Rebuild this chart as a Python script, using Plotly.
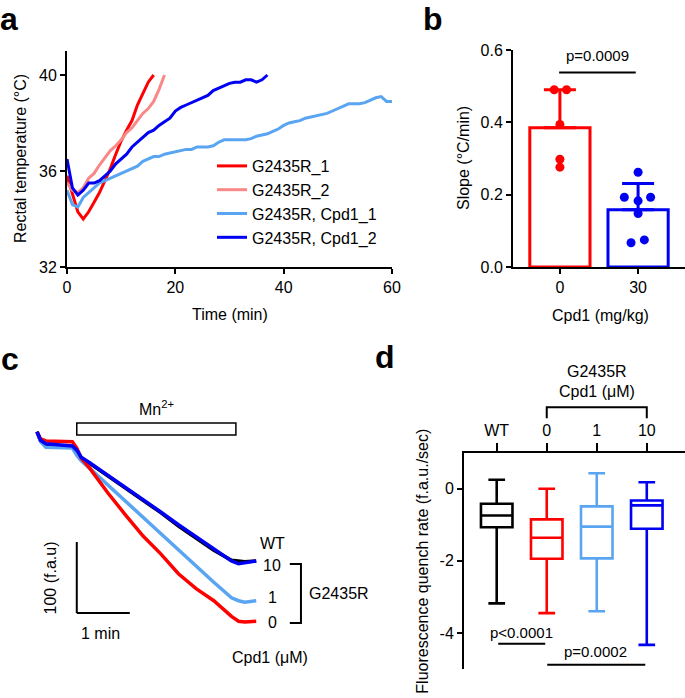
import plotly.graph_objects as go

W, H = 685, 698
FONT = "Liberation Sans, Arial, sans-serif"
FS = 16

RED = "#FF0000"
PINK = "#F98888"
LBLUE = "#5AA5F2"
BLUE = "#0000F2"
BLACK = "#000000"

# ---------------- Panel a : rectal temperature ----------------
a_names = ["G2435R_1", "G2435R_2", "G2435R, Cpd1_1", "G2435R, Cpd1_2"]
a_time_1 = list(range(0, 17))
a_temp_1 = [35.8, 35.0, 34.3, 34.0, 34.3, 34.7, 35.1, 35.6, 36.1, 36.7, 37.25,
            37.7, 38.1, 38.75, 39.25, 39.7, 40.0]
a_time_2 = list(range(0, 19))
a_temp_2 = [35.5, 35.2, 35.1, 35.3, 35.7, 35.9, 36.25, 36.55, 36.85, 37.05, 37.3,
            37.6, 37.8, 38.1, 38.4, 38.6, 38.9, 39.4, 40.0]
a_time_3 = list(range(0, 61))
a_temp_3 = [35.2, 34.6, 34.5, 34.9, 35.1, 35.3, 35.5, 35.6, 35.7, 35.8, 35.9,
            36.0, 36.1, 36.2, 36.4, 36.5, 36.6, 36.6, 36.7, 36.75, 36.8,
            36.85, 36.9, 36.9, 37.0, 37.0, 37.0, 37.05, 37.2, 37.3, 37.3,
            37.3, 37.3, 37.3, 37.35, 37.45, 37.5, 37.55, 37.65, 37.75, 37.9,
            38.0, 38.05, 38.1, 38.2, 38.25, 38.3, 38.35, 38.4, 38.5, 38.6,
            38.7, 38.8, 38.8, 38.8, 38.85, 38.95, 39.05, 39.1, 38.9, 38.9]
a_time_4 = list(range(0, 38))
a_temp_4 = [36.5, 35.3, 35.0, 35.2, 35.5, 35.5, 35.6, 35.8, 36.0, 36.3, 36.5,
            36.7, 37.0, 37.2, 37.4, 37.6, 37.7, 37.9, 38.05, 38.2, 38.5,
            38.65, 38.75, 38.85, 38.95, 39.05, 39.15, 39.35, 39.45, 39.55,
            39.65, 39.7, 39.7, 39.8, 39.8, 39.7, 39.8, 40.0]
a_colors = [RED, PINK, LBLUE, BLUE]
a_xticks = [0, 20, 40, 60]
a_yticks = [32, 36, 40]

# ---------------- Panel b : slope bars ----------------
b_categories = ["0", "30"]
b_means = [0.385, 0.158]
b_sd = [0.105, 0.073]
b_points_0 = [0.49, 0.49, 0.394, 0.298, 0.276]
b_jitter_0 = [-0.073, 0.085, 0.0, 0.0, 0.0]
b_points_30 = [0.262, 0.193, 0.183, 0.193, 0.148, 0.067, 0.075]
b_jitter_30 = [0.0, -0.176, 0.0, 0.16, 0.0, -0.09, 0.08]
b_yticks = [0.0, 0.2, 0.4, 0.6]
b_pvalue = "p=0.0009"

# ---------------- Panel c : Mn2+ quench traces ----------------
c_time = [0, 4, 10, 25, 40, 45, 50, 60, 80, 100, 120, 140, 160, 180, 200,
          220, 228, 235, 248]  # seconds
c_wt = [268, 255, 249, 248, 247, 241, 231, 223, 206, 188, 171, 154, 135,
        118, 101, 87, 86, 85, 86]
c_cpd0 = [268, 258, 255, 255, 254, 245, 231, 216, 182, 151, 121, 96, 68,
          47, 30, 8, 1, 0, 1]
c_cpd1 = [268, 254, 246, 245, 245, 235, 227, 216, 193, 170, 147, 124, 101,
          79, 56, 34, 30, 28, 30]
c_cpd10 = [268, 256, 251, 249, 248, 242, 232, 224, 207, 189, 172, 155, 137,
           120, 103, 86, 82, 83, 86]
c_mn_start, c_mn_end = 45, 225
c_scale_t, c_scale_f = 60, 100
c_labels = ["WT", "10", "1", "0"]

# ---------------- Panel d : quench-rate box plots ----------------
d_categories = ["WT", "0", "1", "10"]
d_q1 = [-1.067, -1.94, -1.93, -1.11]
d_median = [-0.74, -1.36, -1.05, -0.46]
d_q3 = [-0.417, -0.85, -0.49, -0.325]
d_low = [-3.18, -3.45, -3.40, -4.33]
d_high = [0.25, 0.0, 0.43, 0.18]
d_colors = [BLACK, RED, LBLUE, BLUE]
d_yticks = [0, -2, -4]
d_p1, d_p2 = "p<0.0001", "p=0.0002"


def px(x):
    return x / W


def py(y):
    return 1 - y / H


fig = go.Figure()

# panel a
series_a = [(a_time_1, a_temp_1), (a_time_2, a_temp_2), (a_time_3, a_temp_3),
            (a_time_4, a_temp_4)]
for name, (t, v), col in zip(a_names, series_a, a_colors):
    fig.add_trace(go.Scatter(x=t, y=v, mode="lines", name=name,
                             line=dict(color=col, width=3),
                             xaxis="x", yaxis="y"))

# panel b
b_x = list(range(len(b_categories)))
fig.add_trace(go.Bar(x=b_x, y=b_means, width=0.77,
                     marker=dict(color="white", line=dict(color=[RED, BLUE], width=3)),
                     xaxis="x2", yaxis="y2", showlegend=False))
for i, col in enumerate([RED, BLUE]):
    fig.add_trace(go.Scatter(x=[b_x[i]], y=[b_means[i]], mode="markers",
                             marker=dict(size=1, color="rgba(0,0,0,0)"),
                             error_y=dict(type="data", array=[b_sd[i]], arrayminus=[0],
                                          symmetric=False, color=col, thickness=3,
                                          width=16),
                             xaxis="x2", yaxis="y2", showlegend=False))
fig.add_trace(go.Scatter(x=[b_x[0] + j for j in b_jitter_0], y=b_points_0,
                         mode="markers", marker=dict(color=RED, size=9),
                         xaxis="x2", yaxis="y2", showlegend=False))
fig.add_trace(go.Scatter(x=[b_x[1] + j for j in b_jitter_30], y=b_points_30,
                         mode="markers", marker=dict(color=BLUE, size=9),
                         xaxis="x2", yaxis="y2", showlegend=False))

# panel c
for vals, col in [(c_wt, BLACK), (c_cpd1, LBLUE), (c_cpd0, RED), (c_cpd10, BLUE)]:
    fig.add_trace(go.Scatter(x=c_time, y=vals, mode="lines",
                             line=dict(color=col, width=3.5),
                             xaxis="x3", yaxis="y3", showlegend=False))

# panel d
for cat, q1, med, q3, lo, hi, col in zip(d_categories, d_q1, d_median, d_q3,
                                         d_low, d_high, d_colors):
    fig.add_trace(go.Box(x=[cat], q1=[q1], median=[med], q3=[q3],
                         lowerfence=[lo], upperfence=[hi],
                         line=dict(color=col, width=2.6),
                         fillcolor="rgba(0,0,0,0)", width=0.63, whiskerwidth=0.53,
                         boxpoints=False, xaxis="x4", yaxis="y4",
                         showlegend=False))

axis_common = dict(showline=True, linewidth=2, linecolor="black", ticks="outside",
                   ticklen=5, tickwidth=2, tickcolor="black", showgrid=False,
                   zeroline=False, automargin=False,
                   tickfont=dict(size=FS, color="black", family=FONT))

# scale conversions for panel c (px per unit)
c_sx, c_sy = 0.884, 0.71
c_x0px, c_y0px = 37, 622
c_xr = [-20, 330]
c_yr = [-80, 320]

fig.update_layout(
    template="none",
    width=W, height=H, margin=dict(l=0, r=0, t=0, b=0, pad=0, autoexpand=False),
    paper_bgcolor="white", plot_bgcolor="white",
    font=dict(family=FONT, size=FS, color="black"),
    boxmode="overlay", barmode="overlay",
    xaxis=dict(domain=[px(67), px(392)], range=[0, 60], tickvals=a_xticks,
               anchor="y", **axis_common),
    yaxis=dict(domain=[py(267), py(51)], range=[32, 41], tickvals=a_yticks,
               anchor="x", **axis_common),
    xaxis2=dict(domain=[px(513), 1.0], range=[-0.6, 1.6], tickvals=b_x,
                ticktext=b_categories, anchor="y2", **axis_common),
    yaxis2=dict(domain=[py(267), py(50)], range=[0, 0.6], tickvals=b_yticks,
                tickformat=".1f", anchor="x2", **axis_common),
    xaxis3=dict(domain=[px(c_x0px + c_sx * c_xr[0]), px(c_x0px + c_sx * c_xr[1])],
                range=c_xr, visible=False, anchor="y3", automargin=False),
    yaxis3=dict(domain=[py(c_y0px + c_sy * (-c_yr[0])), py(c_y0px - c_sy * c_yr[1])],
                range=c_yr, visible=False, anchor="x3", automargin=False),
    xaxis4=dict(domain=[px(464), 1.0], type="category", categoryorder="array",
                categoryarray=d_categories, range=[-0.654, 3.764], side="top",
                anchor="y4", **{**axis_common, "ticklen": 8}),
    yaxis4=dict(domain=[py(669), py(452.7)], range=[-5, 1], tickvals=d_yticks,
                ticktext=[str(v) for v in d_yticks], anchor="x4", **axis_common),
    legend=dict(x=px(212), y=py(149), xanchor="left", yanchor="top",
                bgcolor="rgba(0,0,0,0)", font=dict(size=FS), tracegroupgap=0,
                itemwidth=30),
)

shapes = []
# panel b significance line
shapes.append(dict(type="line", xref="x2", yref="y2", x0=-0.01, x1=0.97,
                   y0=0.538, y1=0.538, line=dict(color="black", width=2)))
# panel c: Mn box and scale bars
shapes.append(dict(type="rect", xref="x3", yref="y3", x0=c_mn_start, x1=c_mn_end,
                   y0=263.4, y1=280.3, line=dict(color="black", width=1.5),
                   fillcolor="white"))
shapes.append(dict(type="line", xref="x3", yref="y3", x0=c_mn_start, x1=c_mn_start,
                   y0=12.7, y1=12.7 + c_scale_f, line=dict(color="black", width=2)))
shapes.append(dict(type="line", xref="x3", yref="y3", x0=c_mn_start,
                   x1=c_mn_start + c_scale_t, y0=12.7, y1=12.7,
                   line=dict(color="black", width=2)))
# panel c bracket
shapes.append(dict(type="path", xref="x3", yref="y3",
                   path="M 286,81.7 L 298.6,81.7 L 298.6,-1.4 L 286,-1.4",
                   line=dict(color="black", width=2)))
# panel d bracket and significance lines
shapes.append(dict(type="path", xref="x4", yref="paper",
                   path=f"M 1,{py(418.3)} L 1,{py(407.3)} L 3,{py(407.3)} L 3,{py(418.3)}",
                   line=dict(color="black", width=2)))
shapes.append(dict(type="line", xref="x4", yref="y4", x0=0.03, x1=0.97,
                   y0=-4.30, y1=-4.30, line=dict(color="black", width=2)))
shapes.append(dict(type="line", xref="x4", yref="y4", x0=1.01, x1=2.97,
                   y0=-4.88, y1=-4.88, line=dict(color="black", width=2)))
fig.update_layout(shapes=shapes)

ann = []


def note(text, x, y, xref="paper", yref="paper", size=FS, angle=0, bold=False,
         xanchor="center", yanchor="middle", pad=1):
    ann.append(dict(text=f"<b>{text}</b>" if bold else text, x=x, y=y, xref=xref,
                    yref=yref, showarrow=False, textangle=angle,
                    font=dict(size=size, color="black", family=FONT),
                    xanchor=xanchor, yanchor=yanchor, borderpad=pad))


# panel letters
note("a", px(9), 1.0, bold=True, size=32, yanchor="top", pad=0)
note("b", px(433), 1.0, bold=True, size=32, yanchor="top", pad=0)
note("c", px(10), py(358.5), bold=True, size=32)
note("d", px(385), py(356.5), bold=True, size=32)
# axis titles
note("Rectal temperature (°C)", px(20), py(159), angle=-90)
note("Time (min)", px(230), py(314))
note("Slope (°C/min)", px(463), py(158), angle=-90)
note("Cpd1 (mg/kg)", px(600), py(315))
note("Fluorescence quench rate (f.a.u./sec)", px(421.7), py(561), angle=-90)
# panel b p value
note(b_pvalue, 0.48, 0.585, xref="x2", yref="y2", size=15)
# panel c labels
note("Mn<sup>2+</sup>", (c_mn_start + c_mn_end) / 2, 301, xref="x3", yref="y3")
note(f"{c_scale_f} (f.a.u)", 14.7, 62.7, xref="x3", yref="y3", angle=-90)
note("1 min", 71.3, -15.5, xref="x3", yref="y3")
for lab, yv in zip(c_labels, [111, 79, 35, 0]):
    note(lab, 266, yv, xref="x3", yref="y3")
note("G2435R", 305.4, 40.8, xref="x3", yref="y3", xanchor="left")
note("Cpd1 (μM)", 263.6, -49.3, xref="x3", yref="y3")
# panel d labels
note("G2435R", 2, py(371.7), xref="x4")
note("Cpd1 (μM)", 2, py(391.7), xref="x4")
note(d_p1, 0.5, -3.98, xref="x4", yref="y4", size=15)
note(d_p2, 1.98, -4.51, xref="x4", yref="y4", size=15)

fig.update_layout(annotations=ann)
fig.write_html("out.html", config={"displayModeBar": False},
               post_script="document.body.style.margin='0';"
                           "document.body.style.overflow='hidden';")
